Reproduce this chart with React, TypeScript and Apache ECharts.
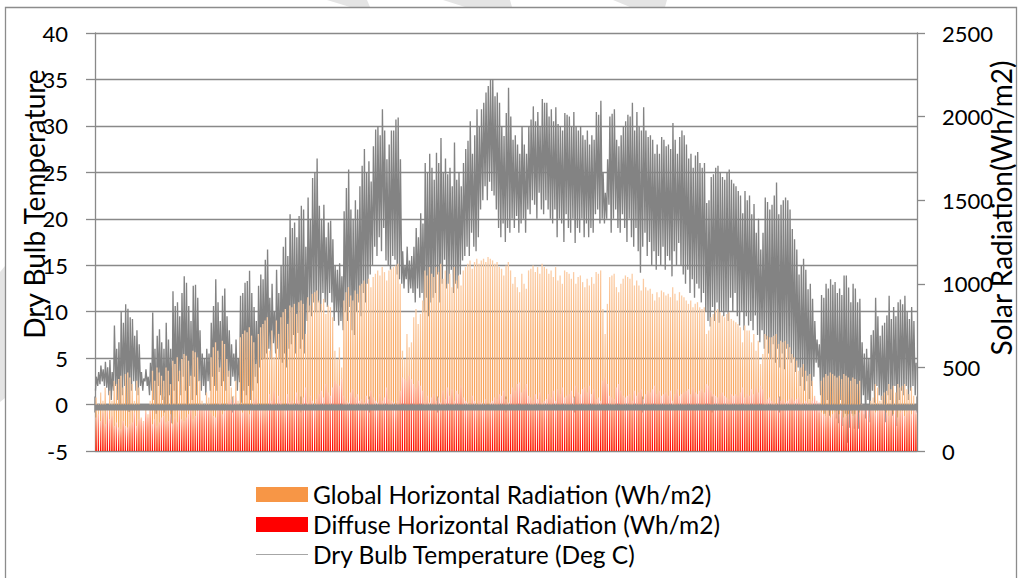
import React, { useEffect, useRef } from "react";
import * as echarts from "echarts";

// Daily maximum / minimum dry bulb temperature (Deg C), day 0 = 1 Jan
const tMax = [
  3.0, 3.5, 4.2, 3.8, 4.6, 4.0, 4.8, 3.5, 8.5, 6.0,
  6.7, 10.0, 8.8, 10.8, 10.3, 9.4, 9.2, 7.4, 8.0, 6.5,
  3.5, 2.8, 3.8, 3.0, 4.5, 9.9, 6.0, 7.4, 8.1, 6.7,
  6.0, 8.8, 7.0, 6.0, 12.2, 10.6, 11.0, 9.5, 12.0, 13.8,
  13.1, 10.6, 9.0, 12.8, 12.9, 11.5, 8.0, 5.5, 5.0, 6.0,
  5.5, 8.8, 10.6, 13.5, 11.0, 9.0, 11.7, 12.5, 9.5, 8.0,
  6.5, 5.5, 7.0, 5.0, 11.7, 12.0, 13.1, 13.3, 14.4, 12.0,
  10.5, 9.0, 12.8, 14.0, 13.5, 15.6, 16.7, 11.5, 13.0, 10.0,
  14.5, 12.0, 15.0, 17.0, 18.0, 16.0, 20.5, 19.0, 19.6, 18.0,
  20.3, 21.4, 21.0, 17.0, 22.3, 20.0, 24.4, 25.0, 26.5, 21.4,
  20.0, 21.5, 18.0, 19.6, 19.8, 17.8, 15.0, 14.5, 15.2, 13.8,
  20.8, 23.3, 25.3, 21.0, 20.0, 22.0, 21.0, 23.5, 25.7, 27.5,
  25.0, 26.2, 24.0, 27.8, 29.6, 30.0, 29.0, 31.8, 29.5, 26.4,
  28.0, 29.5, 29.5, 30.7, 30.9, 26.4, 16.5, 15.0, 17.0, 15.5,
  16.0, 17.0, 19.0, 18.0, 20.6, 19.5, 26.0, 25.0, 27.0, 25.5,
  24.2, 27.1, 26.0, 28.7, 25.0, 26.5, 24.8, 25.5, 23.5, 28.2,
  24.2, 25.0, 23.5, 26.0, 27.5, 28.4, 30.5, 27.0, 29.0, 31.8,
  30.0, 31.8, 32.5, 33.6, 34.3, 35.0, 35.0, 33.2, 33.6, 32.5,
  30.0, 28.9, 31.4, 34.1, 31.0, 28.5, 29.0, 28.0, 27.0, 30.0,
  28.0, 27.0, 30.0, 30.7, 32.1, 30.5, 31.5, 30.0, 32.9, 32.5,
  32.5, 31.0, 31.8, 30.5, 32.0, 30.2, 30.0, 29.5, 31.4, 31.2,
  31.0, 30.0, 31.5, 30.0, 29.5, 30.0, 29.0, 28.5, 29.5, 28.0,
  29.0, 28.5, 31.5, 31.2, 32.7, 25.0, 22.8, 26.4, 31.0, 31.3,
  31.8, 28.5, 27.8, 29.0, 30.0, 30.5, 31.2, 31.0, 32.5, 29.5,
  31.5, 30.0, 29.5, 32.0, 29.5, 28.8, 29.0, 28.5, 27.0, 28.0,
  27.0, 28.8, 28.5, 27.8, 28.0, 27.5, 30.3, 28.5, 27.0, 28.8,
  29.5, 29.0, 28.0, 26.5, 27.0, 25.5, 26.8, 27.2, 26.0, 25.5,
  26.0, 21.7, 22.0, 24.5, 24.8, 25.5, 25.7, 25.0, 24.5, 24.2,
  25.0, 25.3, 24.2, 23.8, 23.5, 23.0, 22.5, 20.6, 23.0, 22.0,
  22.5, 20.5, 21.6, 18.5, 20.0, 16.7, 18.5, 22.3, 21.8, 21.0,
  21.5, 22.5, 23.9, 20.5, 21.5, 22.0, 22.3, 22.0, 21.0, 18.9,
  17.8, 16.7, 14.0, 15.0, 15.7, 14.5, 12.4, 13.0, 11.4, 9.0,
  7.0, 6.5, 11.8, 11.5, 13.0, 12.5, 13.5, 12.9, 13.2, 12.0,
  12.5, 11.8, 13.9, 13.9, 12.6, 11.0, 13.0, 12.5, 11.0, 11.4,
  6.7, 5.5, 6.0, 5.0, 7.5, 8.0, 11.5, 9.5, 7.4, 8.5,
  8.8, 9.6, 11.7, 9.2, 10.5, 9.5, 11.0, 11.3, 10.8, 11.7,
  10.0, 9.2, 10.5, 9.0, 4.5,
];

const tMin = [
  1.5, 2.0, 2.2, 2.5, 2.0, 1.8, 1.0, 0.5, 1.5, 2.0,
  0.5, -0.5, 1.0, 2.0, 0.0, -0.8, 1.5, 2.5, 1.5, 1.0,
  2.0, 1.5, 2.5, 2.0, 1.0, 1.5, 0.5, -1.0, 2.0, 1.0,
  0.5, -0.5, 0.0, 1.0, -2.0, 1.5, 0.0, 2.5, 1.0, 3.0,
  1.5, -0.5, 2.0, 0.5, 3.0, 1.0, 2.5, 1.5, 2.0, 1.0,
  2.5, 1.5, 3.0, 2.0, 1.5, 3.5, 2.0, 2.5, 1.5, 3.0,
  2.0, 3.0, 2.5, 1.5, 2.4, 0.2, 1.5, 1.0, 2.0, 0.5,
  1.5, 3.0, 2.3, 4.0, 4.8, 5.0, 5.5, 6.0, 5.0, 6.6,
  5.5, 6.0, 5.0, 4.5, 5.5, 4.0, 6.0, 6.5, 7.5, 5.5,
  7.7, 6.0, 7.0, 5.5, 9.0, 10.0, 9.5, 11.0, 10.0, 11.0,
  10.0, 12.0, 11.0, 10.5, 12.0, 11.0, 9.0, 10.0, 8.5, 9.0,
  8.0, 10.0, 9.0, 10.5, 8.0, 7.5, 10.0, 11.0, 9.5, 12.0,
  11.0, 13.0, 14.0, 15.0, 17.0, 16.0, 18.0, 16.5, 19.0, 15.5,
  15.0, 14.5, 16.0, 15.6, 14.0, 13.5, 13.0, 12.5, 13.5, 12.0,
  12.5, 12.0, 11.0, 12.5, 11.5, 12.0, 10.0, 11.5, 9.5, 11.0,
  11.5, 12.0, 14.0, 11.0, 13.0, 15.6, 12.5, 13.0, 14.5, 12.0,
  13.0, 12.5, 14.0, 15.5, 16.0, 17.0, 16.0, 18.5, 17.0, 16.5,
  18.0, 21.0, 22.0, 23.5, 22.0, 24.0, 23.0, 22.5, 21.0, 19.0,
  18.0, 19.5, 17.5, 19.0, 18.5, 20.0, 19.0, 20.3, 18.5, 19.5,
  20.0, 18.5, 21.0, 20.5, 22.0, 21.5, 20.0, 22.8, 21.0, 20.5,
  22.0, 21.0, 20.0, 19.5, 21.0, 18.0, 20.0, 19.5, 17.5, 20.5,
  19.0, 18.5, 20.0, 17.4, 19.0, 18.5, 20.0, 18.0, 19.5, 18.0,
  19.0, 18.5, 20.5, 21.0, 19.5, 20.0, 19.5, 20.0, 21.5, 18.5,
  20.0, 21.0, 19.0, 18.5, 20.5, 19.0, 17.5, 20.0, 18.0, 17.0,
  19.0, 16.5, 14.2, 17.0, 18.5, 16.0, 17.5, 15.0, 16.5, 14.5,
  16.0, 15.0, 17.0, 14.5, 16.0, 15.5, 13.8, 16.5, 15.0, 17.4,
  15.0, 14.0, 13.0, 14.5, 12.0, 13.5, 11.5, 13.0, 12.5, 11.0,
  12.0, 10.0, 9.0, 8.4, 10.5, 9.0, 11.0, 8.8, 10.0, 9.5,
  10.0, 9.0, 11.5, 10.0, 12.0, 9.5, 8.5, 10.0, 8.0, 9.5,
  8.5, 9.0, 8.0, 9.6, 7.5, 6.7, 8.0, 6.0, 7.0, 5.5,
  5.0, 6.5, 4.5, 6.0, 4.0, 5.5, 3.8, 6.0, 5.0, 4.5,
  5.0, 3.5, 4.0, 2.0, 3.0, 1.5, 2.5, 0.6, 2.0, 3.0,
  4.5, 4.0, 1.0, 0.0, -1.0, 0.5, -1.2, -0.5, 0.0, -1.5,
  -2.0, 0.5, -2.3, -1.0, -4.1, -2.5, -1.0, -2.6, 0.0, -2.6,
  -0.5, 1.0, -1.5, 0.5, -1.9, 1.5, 0.2, 2.0, 1.0, 0.5,
  0.0, -1.9, 1.0, 0.5, -1.2, 2.0, -2.3, 0.5, 1.5, 1.0,
  2.0, 0.5, 1.5, 2.0, 1.0,
];

// Daily peak Global Horizontal Radiation (Wh/m2)
const globalRad = [
  320, 280, 350, 300, 380, 250, 360, 300, 420, 400,
  430, 450, 380, 460, 470, 440, 400, 300, 420, 380,
  200, 180, 250, 220, 300, 480, 420, 500, 470, 450,
  420, 500, 480, 400, 540, 520, 560, 480, 550, 580,
  570, 540, 450, 600, 590, 560, 420, 300, 280, 350,
  320, 560, 620, 650, 600, 500, 660, 640, 550, 480,
  380, 330, 420, 300, 680, 700, 720, 710, 740, 690,
  650, 520, 700, 740, 760, 780, 800, 600, 720, 560,
  780, 700, 800, 830, 850, 760, 870, 860, 880, 820,
  890, 900, 880, 700, 920, 870, 940, 950, 960, 900,
  880, 910, 820, 870, 860, 800, 600, 550, 620, 500,
  900, 950, 980, 930, 900, 960, 940, 990, 1000, 1020,
  1000, 1030, 980, 1040, 1060, 1080, 1050, 1100, 1070, 1020,
  1080, 1090, 1100, 1110, 1120, 1000, 600, 550, 700, 620,
  650, 800, 850, 760, 820, 900, 1080, 1050, 1100, 1060,
  1040, 1100, 1070, 1120, 1030, 1080, 1000, 1060, 980, 1100,
  1020, 1050, 990, 1080, 1100, 1120, 1140, 1090, 1130, 1150,
  1120, 1140, 1150, 1130, 1160, 1150, 1140, 1120, 1130, 1100,
  1090, 1050, 1110, 1130, 1080, 1000, 1040, 980, 950, 1060,
  1000, 970, 1080, 1090, 1110, 1070, 1100, 1060, 1120, 1100,
  1090, 1060, 1080, 1040, 1100, 1020, 1050, 1000, 1080, 1070,
  1060, 1030, 1070, 1000, 1040, 1050, 1010, 980, 1030, 990,
  1040, 1000, 1070, 1060, 1080, 850, 700, 880, 1040, 1050,
  1060, 980, 950, 1000, 1030, 1050, 1040, 1030, 1060, 990,
  1020, 990, 960, 1030, 980, 960, 970, 940, 900, 950,
  920, 960, 950, 930, 940, 920, 980, 940, 900, 950,
  930, 920, 900, 880, 900, 860, 880, 890, 860, 850,
  860, 700, 720, 800, 820, 840, 850, 830, 810, 800,
  820, 830, 790, 780, 770, 760, 740, 650, 750, 720,
  720, 650, 700, 600, 660, 520, 580, 700, 690, 680,
  680, 690, 700, 640, 660, 650, 660, 640, 620, 580,
  560, 540, 480, 500, 520, 480, 450, 460, 420, 330,
  250, 230, 420, 440, 460, 450, 470, 460, 450, 440,
  450, 430, 460, 450, 440, 420, 440, 430, 400, 420,
  260, 220, 250, 200, 300, 320, 400, 380, 300, 330,
  350, 360, 400, 370, 390, 350, 400, 380, 390, 400,
  370, 340, 380, 330, 220,
];

// Daily peak Diffuse Horizontal Radiation (Wh/m2)
const diffuseRad = [
  200, 220, 180, 230, 160, 240, 190, 210, 150, 170,
  140, 130, 180, 150, 140, 160, 170, 230, 150, 190,
  190, 170, 230, 200, 240, 160, 190, 150, 170, 200,
  210, 170, 180, 220, 160, 200, 170, 250, 190, 180,
  200, 220, 260, 190, 210, 240, 280, 260, 250, 280,
  270, 230, 210, 200, 250, 290, 220, 240, 280, 300,
  310, 290, 320, 270, 250, 230, 260, 240, 220, 270,
  300, 320, 280, 260, 250, 240, 270, 340, 300, 360,
  280, 330, 300, 270, 260, 340, 290, 300, 280, 350,
  300, 280, 320, 380, 290, 330, 300, 280, 310, 340,
  360, 320, 400, 350, 330, 380, 420, 400, 390, 430,
  330, 300, 290, 350, 370, 320, 340, 300, 310, 290,
  330, 310, 360, 320, 300, 290, 340, 300, 320, 380,
  310, 300, 290, 280, 300, 360, 440, 430, 420, 450,
  430, 400, 380, 420, 390, 360, 300, 330, 290, 320,
  340, 300, 320, 290, 360, 310, 380, 330, 370, 300,
  360, 340, 390, 320, 300, 290, 280, 330, 300, 280,
  300, 290, 280, 310, 270, 290, 300, 320, 310, 340,
  330, 360, 310, 290, 340, 380, 360, 400, 410, 350,
  370, 400, 330, 320, 300, 340, 310, 350, 290, 300,
  310, 340, 320, 360, 300, 370, 340, 380, 320, 330,
  340, 360, 320, 390, 350, 340, 370, 380, 350, 390,
  340, 370, 310, 320, 300, 420, 440, 400, 330, 320,
  310, 380, 400, 360, 330, 320, 330, 340, 300, 360,
  330, 350, 370, 310, 340, 360, 350, 370, 390, 340,
  360, 330, 340, 350, 330, 360, 300, 340, 370, 330,
  340, 350, 360, 370, 340, 380, 350, 340, 360, 370,
  350, 400, 390, 360, 340, 330, 320, 340, 350, 330,
  320, 310, 340, 330, 340, 330, 350, 380, 320, 340,
  330, 370, 340, 380, 350, 390, 370, 300, 310, 320,
  300, 290, 280, 320, 300, 310, 290, 300, 310, 320,
  300, 310, 320, 290, 280, 300, 290, 280, 300, 320,
  300, 290, 230, 220, 210, 230, 200, 220, 230, 240,
  220, 240, 200, 210, 220, 240, 210, 220, 250, 230,
  280, 260, 270, 250, 260, 250, 230, 240, 270, 250,
  240, 230, 210, 240, 220, 250, 200, 230, 240, 210,
  230, 250, 220, 260, 240,
];

const seriesNames = [
  "Global Horizontal Radiation (Wh/m2)",
  "Diffuse Horizontal Radiation (Wh/m2)",
  "Dry Bulb Temperature (Deg C)",
];
const axisTitles = ["Dry Bulb Temperature", "Solar Radiation(Wh/m2)"];
const tempAxisRange = [-5, 40, 5];
const radAxisRange = [0, 2500, 500];
const yearHours = [0, 8760, 730];

const FONT = "Lato, 'Open Sans', sans-serif";
const GRID = "#898989";

export default function App() {
  const ref = useRef<HTMLDivElement>(null);

  useEffect(() => {
    document.body.style.margin = "0";
    const chart = echarts.init(ref.current!, null, { renderer: "svg" });

    const tempData: number[][] = [];
    tMax.forEach((mx, i) => {
      tempData.push([i * 24 + 5, tMin[i]]);
      tempData.push([i * 24 + 15, mx]);
    });
    const gData = globalRad.map((v, i) => [i * 24 + 12, v]);
    const dData = diffuseRad.map((v, i) => [i * 24 + 12, v]);

    const xBase = {
      type: "value",
      min: yearHours[0],
      max: yearHours[1],
      interval: yearHours[2],
      position: "bottom",
      axisLabel: { show: false },
      splitLine: { show: false },
    };

    chart.setOption({
      animation: false,
      backgroundColor: "#ffffff",
      textStyle: { fontFamily: FONT },
      grid: {
        left: 95,
        right: 110,
        top: 33,
        bottom: 127,
        containLabel: false,
        outerBoundsMode: "none",
      },
      graphic: [
        { type: "polygon", silent: true, z: -10, shape: { points: [[327, 0], [367, 0], [370, 7], [350, 7]] }, style: { fill: "#e4e4e4" } },
        { type: "polygon", silent: true, z: -10, shape: { points: [[443, 0], [510, 0], [512, 7], [465, 7]] }, style: { fill: "#e4e4e4" } },
        { type: "polygon", silent: true, z: -10, shape: { points: [[613, 0], [667, 0], [665, 7], [630, 7]] }, style: { fill: "#e4e4e4" } },
        { type: "polygon", silent: true, z: -10, shape: { points: [[0, 272], [5, 266], [5, 398], [0, 402]] }, style: { fill: "#e4e4e4" } },
        { type: "rect", silent: true, z: -5, shape: { x: 5.5, y: 7.5, width: 1011, height: 620 }, style: { fill: "none", stroke: "#8c8c8c", lineWidth: 1.3 } },
        {
          type: "text",
          silent: true,
          x: 34,
          y: 204,
          rotation: Math.PI / 2,
          style: { text: axisTitles[0], font: `28px ${FONT}`, fill: "#000", align: "center", verticalAlign: "middle" },
        },
        {
          type: "text",
          silent: true,
          x: 1001,
          y: 208,
          rotation: Math.PI / 2,
          style: { text: axisTitles[1], font: `28px ${FONT}`, fill: "#000", align: "center", verticalAlign: "middle" },
        },
      ],
      legend: {
        orient: "vertical",
        left: 256,
        top: 482,
        padding: 0,
        itemWidth: 52,
        itemHeight: 15,
        itemGap: 5,
        selectedMode: false,
        textStyle: { fontFamily: FONT, fontSize: 24.5, color: "#000" },
        data: [
          { name: seriesNames[0], icon: "rect", itemStyle: { color: "#F79646" } },
          { name: seriesNames[1], icon: "rect", itemStyle: { color: "#FF0000" } },
          { name: seriesNames[2], icon: "path://M0 0H52V1.2H0Z", itemStyle: { color: "#a6a6a6" } },
        ],
      },
      xAxis: [
        {
          ...xBase,
          axisLine: { show: true, onZero: true, onZeroAxisIndex: 0, lineStyle: { color: GRID, width: 1.3 } },
          axisTick: { show: true, inside: true, length: 8, lineStyle: { color: GRID, width: 1.5 } },
        },
        {
          ...xBase,
          axisLine: { show: false, onZero: true, onZeroAxisIndex: 0 },
          axisTick: { show: true, inside: false, length: 8, lineStyle: { color: GRID, width: 1.5 } },
        },
      ],
      yAxis: [
        {
          type: "value",
          position: "left",
          min: tempAxisRange[0],
          max: tempAxisRange[1],
          interval: tempAxisRange[2],
          axisLine: { show: true, onZero: false, lineStyle: { color: GRID, width: 1.3 } },
          axisTick: { show: true, length: 9, lineStyle: { color: GRID, width: 1.3 } },
          axisLabel: { fontFamily: FONT, fontSize: 22, color: "#000", margin: 27 },
          splitLine: { show: true, lineStyle: { color: GRID, width: 1.3 } },
        },
        {
          type: "value",
          position: "right",
          min: radAxisRange[0],
          max: radAxisRange[1],
          interval: radAxisRange[2],
          axisLine: { show: true, onZero: false, lineStyle: { color: GRID, width: 1.3 } },
          axisTick: { show: true, length: 8, lineStyle: { color: GRID, width: 1.3 } },
          axisLabel: {
            fontFamily: FONT,
            fontSize: 22,
            color: "#000",
            margin: 25,
            formatter: (v: number) => String(v),
          },
          splitLine: { show: false },
        },
      ],
      series: [
        {
          name: seriesNames[2],
          type: "line",
          xAxisIndex: 0,
          yAxisIndex: 0,
          data: tempData,
          symbol: "none",
          lineStyle: { color: "#838383", width: 1.35 },
          itemStyle: { color: "#a6a6a6" },
          z: 2,
        },
        {
          name: seriesNames[0],
          type: "bar",
          xAxisIndex: 0,
          yAxisIndex: 1,
          data: gData,
          barWidth: 1.3,
          barGap: "-100%",
          itemStyle: {
            color: new echarts.graphic.LinearGradient(0, 0, 0, 1, [
              { offset: 0, color: "#fbcda6" },
              { offset: 0.35, color: "#f9ad6c" },
              { offset: 1, color: "#f79646" },
            ]),
          },
          z: 3,
        },
        {
          name: seriesNames[1],
          type: "bar",
          xAxisIndex: 0,
          yAxisIndex: 1,
          data: dData,
          barWidth: 1.2,
          barGap: "-100%",
          itemStyle: {
            color: new echarts.graphic.LinearGradient(0, 0, 0, 1, [
              { offset: 0, color: "#ffc0b0" },
              { offset: 0.4, color: "#ff6a58" },
              { offset: 1, color: "#ff0000" },
            ]),
          },
          z: 3,
        },
        {
          name: "axisBand",
          type: "custom",
          xAxisIndex: 0,
          yAxisIndex: 0,
          silent: true,
          z: 5,
          data: [[yearHours[0], 0]],
          renderItem: (_params: any, api: any) => {
            const p0 = api.coord([yearHours[0], 0]);
            const p1 = api.coord([yearHours[1], 0]);
            return {
              type: "rect",
              shape: { x: p0[0], y: p0[1], width: p1[0] - p0[0], height: 6 },
              style: { fill: GRID },
            };
          },
        },
      ],
    });

    return () => chart.dispose();
  }, []);

  return (
    <div
      ref={ref}
      style={{ position: "fixed", left: 0, top: 0, width: 1027, height: 578 }}
    />
  );
}
